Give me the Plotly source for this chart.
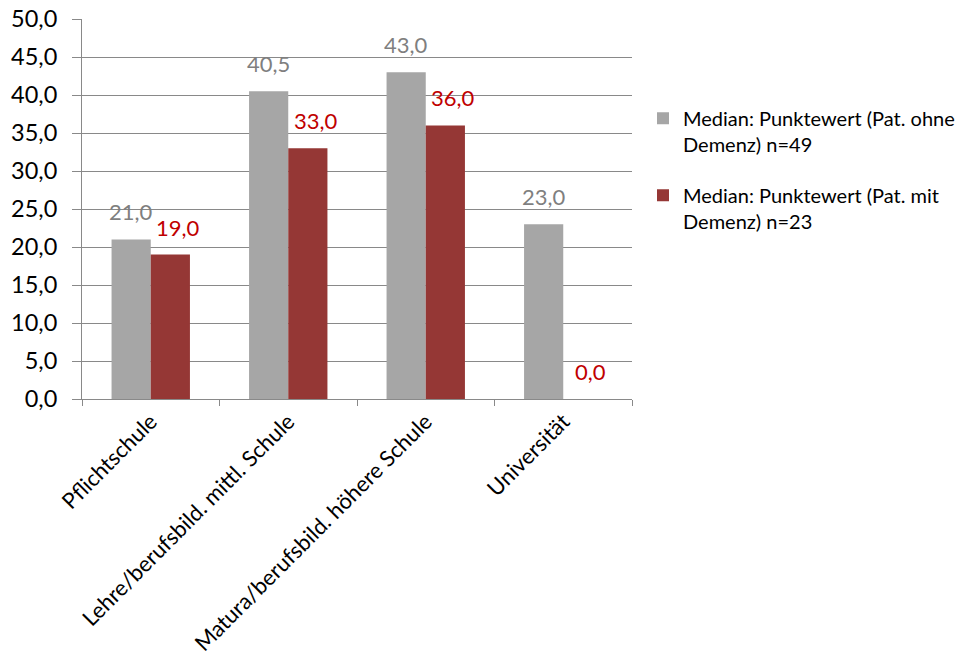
import plotly.graph_objects as go

# Education level categories and median scores per patient group
categories = [
    "Pflichtschule",
    "Lehre/berufsbild. mittl. Schule",
    "Matura/berufsbild. höhere Schule",
    "Universität",
]
ohne_demenz = [21.0, 40.5, 43.0, 23.0]
mit_demenz = [19.0, 33.0, 36.0, 0.0]
series_names = [
    "Median: Punktewert (Pat. ohne<br>Demenz) n=49",
    "Median: Punktewert (Pat. mit<br>Demenz) n=23",
]
y_ticks = [0, 5, 10, 15, 20, 25, 30, 35, 40, 45, 50]

FONT = "Lato"
GRID = "#898989"
GRAY_BAR = "#a6a6a6"
RED_BAR = "#953735"
GRAY_TXT = "#7f7f7f"
RED_TXT = "#c00000"

W, H = 957, 666
M = dict(l=82, r=325, t=19, b=267, autoexpand=False)
BARGAP = 0.43


def fmt(v):
    return f"{v:.1f}".replace(".", ",")


fig = go.Figure()
fig.add_trace(go.Bar(x=categories, y=ohne_demenz, name=series_names[0],
                     marker=dict(color=GRAY_BAR, line=dict(width=0)),
                     legendgroup="a"))
fig.add_trace(go.Bar(x=categories, y=mit_demenz, name=series_names[1],
                     marker=dict(color=RED_BAR, line=dict(width=0)),
                     legendgroup="b"))

# half a bar width in pixels, derived from the plot geometry
plot_w = W - M["l"] - M["r"]
cat_w = plot_w / len(categories)
bar_w = cat_w * (1 - BARGAP) / 2

for cat, v in zip(categories, ohne_demenz):
    fig.add_annotation(x=cat, y=v, text=fmt(v), showarrow=False,
                       xshift=-bar_w / 2, yshift=12, yanchor="bottom",
                       font=dict(family=FONT, size=22, color=GRAY_TXT))
for cat, v in zip(categories, mit_demenz):
    fig.add_annotation(x=cat, y=v, text=fmt(v), showarrow=False,
                       xshift=bar_w / 2 + 8, yshift=12, yanchor="bottom",
                       font=dict(family=FONT, size=22, color=RED_TXT))

fig.update_layout(
    width=W, height=H, margin=M,
    paper_bgcolor="white", plot_bgcolor="white",
    barmode="group", bargap=BARGAP, bargroupgap=0,
    separators=",.",
    font=dict(family=FONT, size=20, color="black"),
    legend=dict(x=1.02, xanchor="left", y=0.79, yanchor="top",
                font=dict(family=FONT, size=20, color="black"),
                tracegroupgap=22, traceorder="grouped", valign="top",
                bgcolor="rgba(0,0,0,0)"),
)
fig.update_xaxes(
    tickangle=-45, tickson="boundaries", ticks="outside", ticklen=6,
    tickcolor=GRID, showline=True, linecolor=GRID, linewidth=1,
    showgrid=False, tickfont=dict(family=FONT, size=22, color="black"),
)
fig.update_yaxes(
    range=[0, 50], tickvals=y_ticks, tickformat=".1f",
    ticks="outside", ticklen=9, tickcolor=GRID,
    showline=True, linecolor=GRID, linewidth=1,
    showgrid=True, gridcolor=GRID, gridwidth=1, zeroline=False,
    ticklabelstandoff=10,
    tickfont=dict(family=FONT, size=23.5, color="black"),
)

fig.write_html("out.html")
